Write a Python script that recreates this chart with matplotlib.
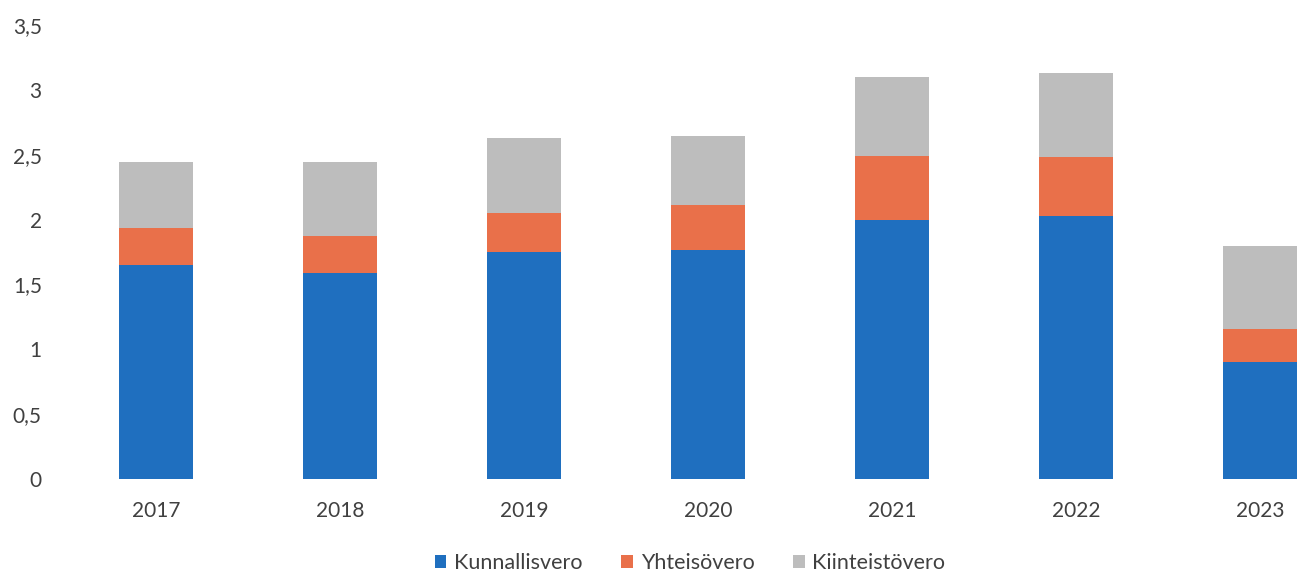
import matplotlib.pyplot as plt
import numpy as np

years = ["2017", "2018", "2019", "2020", "2021", "2022", "2023"]
kunnallisvero = [1.65, 1.59, 1.75, 1.765, 2.00, 2.03, 0.90]
yhteisovero = [0.285, 0.28, 0.30, 0.345, 0.49, 0.455, 0.26]
kiinteistovero = [0.505, 0.57, 0.58, 0.535, 0.61, 0.645, 0.64]
yticks = [0, 0.5, 1, 1.5, 2, 2.5, 3, 3.5]

plt.rcParams['font.family'] = ['Lato', 'DejaVu Sans']

fig = plt.figure(figsize=(12.97, 5.74), dpi=100)
ax = fig.add_axes([64 / 1297, 95 / 574, 1233 / 1297, 454 / 574])

x = np.arange(len(years))
w = 0.40
blue = np.array(kunnallisvero)
orange = np.array(yhteisovero)
gray = np.array(kiinteistovero)

ax.bar(x, blue, w, color="#1f6fbf", label="Kunnallisvero")
ax.bar(x, orange, w, bottom=blue, color="#e9704a", label="Yhteisövero")
ax.bar(x, gray, w, bottom=blue + orange, color="#bdbdbd", label="Kiinteistövero")

ax.set_xlim(-0.5, 6.2)
ax.set_ylim(0, 3.5)
ax.set_xticks(x)
ax.set_xticklabels(years)
ax.set_yticks(yticks)
ax.set_yticklabels([f"{v:g}".replace(".", ",") for v in yticks])
ax.tick_params(axis="both", length=0, labelsize=15, colors="#404040")
ax.tick_params(axis="x", pad=16)
ax.tick_params(axis="y", pad=16)
for s in ax.spines.values():
    s.set_visible(False)

fig.legend(loc="center", bbox_to_anchor=(690 / 1297, 1 - 563 / 574), ncol=3,
           frameon=False, fontsize=15.5, handlelength=0.55, handleheight=0.55,
           handletextpad=0.35, columnspacing=1.8, labelcolor="#404040")

fig.savefig("out.png", dpi=100)
